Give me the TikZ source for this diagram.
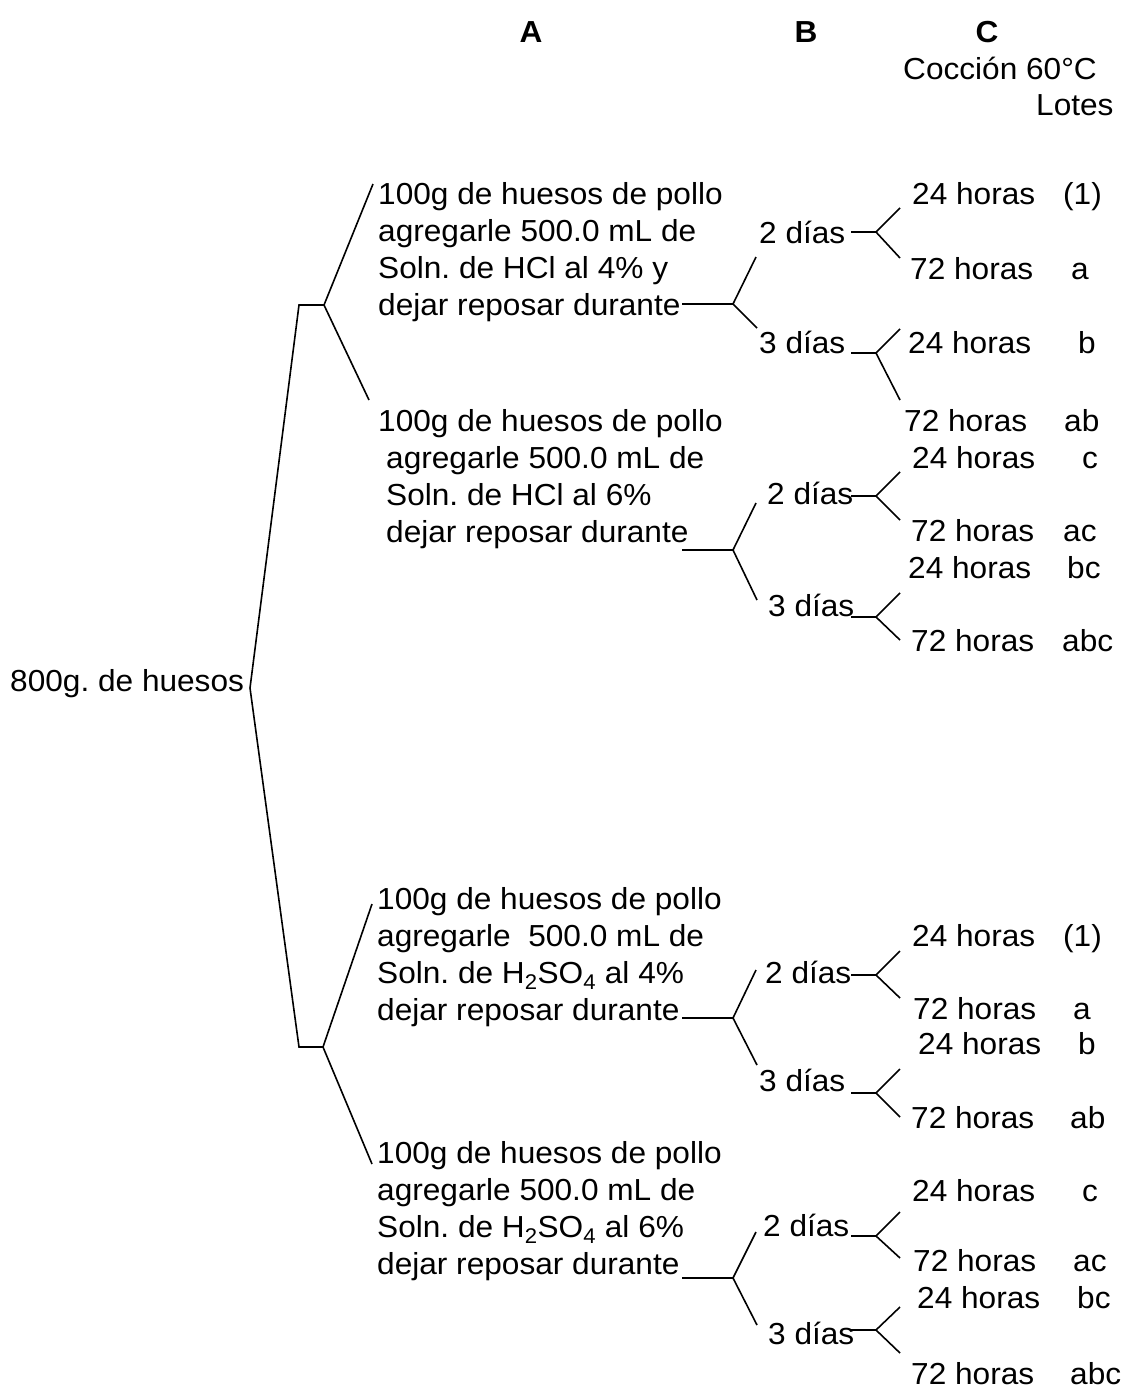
\documentclass[tikz,border=0pt]{standalone}
\usepackage{fontspec}
\setmainfont{Liberation Sans}[FakeStretch=1.04]
\usetikzlibrary{positioning}
\frenchspacing

\begin{document}
\begin{tikzpicture}[x=1pt, y=-1pt,
    lbl/.style={anchor=base west, inner sep=0pt, font=\fontsize{30.4}{37}\selectfont},
    blk/.style={lbl, align=left},
    hd/.style={anchor=base, inner sep=0pt, font=\fontsize{30.4}{37}\selectfont\bfseries},
    ln/.style={line width=1.6pt}]
    \useasboundingbox (0,0) rectangle (1125,1390);

    % Column headers
    \node[hd] (colA) at (531,42) {A};
    \node[hd] (colB) at (806,42) {B};
    \node[hd] (colC) at (987,42) {C};
    \node[lbl] (coccion) at (903,79) {Cocción 60°C};
    \node[lbl] (lotes) at (1036,115) {Lotes};

    % Root and first split
    \node[lbl] (root) at (10,691) {800g. de huesos};
    \coordinate (r) at (250,688);
    \coordinate (j1a) at (299,305);
    \coordinate (j1b) at (324,305);
    \coordinate (j2a) at (299,1047);
    \coordinate (j2b) at (323,1047);
    \coordinate (t1) at (373,184);
    \coordinate (t2) at (369,400);
    \coordinate (t3) at (372,904);
    \coordinate (t4) at (372,1164);
    \draw[ln] (j1b) -- (j1a) -- (r) -- (j2a) -- (j2b);
    \draw[ln] (t1) -- (j1b) -- (t2);
    \draw[ln] (t3) -- (j2b) -- (t4);

    % Column A: treatments (base = last line)
    \node[blk] (acid1) at (378,315) {100g de huesos de pollo\\agregarle 500.0 mL de\\Soln. de HCl al 4\% y\\dejar reposar durante};
    \node[blk] (acid2) at (378,542) {100g de huesos de pollo\\\hspace*{8pt}agregarle 500.0 mL de\\\hspace*{8pt}Soln. de HCl al 6\%\\\hspace*{8pt}dejar reposar durante};
    \node[blk] (acid3) at (377,1020) {100g de huesos de pollo\\agregarle\ \ 500.0 mL de\\Soln. de H\textsubscript{2}SO\textsubscript{4} al 4\%\\dejar reposar durante};
    \node[blk] (acid4) at (377,1274) {100g de huesos de pollo\\agregarle 500.0 mL de\\Soln. de H\textsubscript{2}SO\textsubscript{4} al 6\%\\dejar reposar durante};

    % Forks A -> B
    \foreach \n/\y/\u/\d in {1/304/257/328, 2/550/503/600, 3/1018/970/1065, 4/1278/1232/1325} {
        \coordinate (as\n) at (682,\y);
        \coordinate (ak\n) at (733,\y);
        \coordinate (au\n) at (756,\u);
        \coordinate (ad\n) at (757,\d);
        \draw[ln] (as\n) -- (ak\n) (au\n) -- (ak\n) -- (ad\n);
    }

    % Column B: days
    \foreach \n/\x/\y/\t in {1/759/243/2, 2/759/353/3, 3/767/504/2, 4/768/616/3,
                             5/765/983/2, 6/759/1091/3, 7/763/1236/2, 8/768/1344/3}
        \node[lbl] (dia\n) at (\x,\y) {\t~días};

    % Forks B -> C
    \foreach \n/\y/\u/\d in {1/232/208/258, 2/353/329/400, 3/496/472/520, 4/617/593/640,
                             5/975/951/998, 6/1093/1069/1117, 7/1236/1212/1258, 8/1330/1307/1353} {
        \coordinate (bs\n) at (851,\y);
        \coordinate (bk\n) at (876,\y);
        \coordinate (bu\n) at (900,\u);
        \coordinate (bd\n) at (900,\d);
        \draw[ln] (bs\n) -- (bk\n) (bu\n) -- (bk\n) -- (bd\n);
    }

    % Column C: cooking time and batch
    \foreach \n/\x/\y/\h/\l/\lx in {1/912/204/24/{(1)}/1063, 2/910/279/72/a/1071, 3/908/353/24/b/1078,
                                    4/904/431/72/ab/1064, 5/912/468/24/c/1082, 6/911/541/72/ac/1063,
                                    7/908/578/24/bc/1067, 8/911/651/72/abc/1062, 9/912/946/24/{(1)}/1063,
                                    10/913/1019/72/a/1073, 11/918/1054/24/b/1078, 12/911/1128/72/ab/1070,
                                    13/912/1201/24/c/1082, 14/913/1271/72/ac/1073, 15/917/1308/24/bc/1077,
                                    16/911/1384/72/abc/1070} {
        \node[lbl] (hora\n) at (\x,\y) {\h~horas};
        \node[lbl] (lote\n) at (\lx,\y) {\l};
    }
\end{tikzpicture}
\end{document}
